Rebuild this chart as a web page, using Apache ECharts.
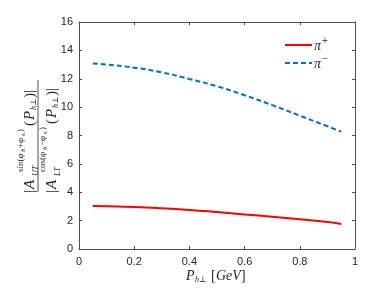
<!DOCTYPE html>
<html>
<head>
<meta charset="utf-8">
<script src="https://cdn.jsdelivr.net/npm/echarts@6/dist/echarts.min.js"></script>
<style>html,body{margin:0;padding:0;background:#fff}#c{width:392px;height:293px}</style>
</head>
<body>
<div id="c"></div>
<script>
var xValues = [0.05, 0.1, 0.2, 0.3, 0.4, 0.5, 0.6, 0.7, 0.8, 0.9, 0.95];
var piPlus = [3.03, 3.01, 2.96, 2.87, 2.75, 2.60, 2.44, 2.27, 2.09, 1.90, 1.77];
var piMinus = [13.07, 13.00, 12.78, 12.45, 11.98, 11.47, 10.84, 10.14, 9.40, 8.65, 8.27];
var seriesNames = ['π+', 'π−'];
var xTicks = [0, 0.2, 0.4, 0.6, 0.8, 1];
var yTicks = [0, 2, 4, 6, 8, 10, 12, 14, 16];

function pairs(ys) { return xValues.map(function (x, i) { return [x, ys[i]]; }); }

var axisCol = '#4d4d4d';
var labCol = '#262626';
var serif = '"Liberation Serif", "DejaVu Serif", serif';
var sans = '"Liberation Sans", Arial, sans-serif';

function axisCommon(show) {
  return {
    axisLine: { show: true, onZero: false, lineStyle: { color: axisCol, width: 1 } },
    axisTick: { show: true, inside: true, length: 3, lineStyle: { color: axisCol } },
    splitLine: { show: false },
    axisLabel: { show: show, color: labCol, fontFamily: sans, fontSize: 11 }
  };
}

var xBase = Object.assign({ type: 'value', min: 0, max: 1, interval: 0.2 }, axisCommon(true));
xBase.axisLabel.margin = 7;
xBase.axisLabel.formatter = function (v) { return String(Math.round(v * 10) / 10); };
var xTop = Object.assign({ type: 'value', min: 0, max: 1, interval: 0.2, position: 'top' }, axisCommon(false));
var yBase = Object.assign({ type: 'value', min: 0, max: 16, interval: 2 }, axisCommon(true));
yBase.axisLabel.margin = 6;
var yRight = Object.assign({ type: 'value', min: 0, max: 16, interval: 2, position: 'right' }, axisCommon(false));

var chart = echarts.init(document.getElementById('c'), null, { renderer: 'canvas' });

function t(text, x, y, size, italic) {
  return { type: 'text', x: x, y: y, style: { text: text, font: (italic ? 'italic ' : '') + size + 'px ' + serif, fill: labCol, textVerticalAlign: 'middle', textAlign: 'left' } };
}

chart.setOption({
  animation: false,
  grid: { left: 79, right: 37, top: 22, bottom: 44 },
  xAxis: [xBase, xTop],
  yAxis: [yBase, yRight],
  legend: { show: false, data: seriesNames },
  series: [
    { name: seriesNames[0], type: 'line', data: pairs(piPlus), smooth: true, symbol: 'none',
      lineStyle: { color: '#ff0000', width: 2 }, itemStyle: { color: '#ff0000' } },
    { name: seriesNames[1], type: 'line', data: pairs(piMinus), smooth: true, symbol: 'none',
      lineStyle: { color: '#0072bd', width: 2, type: [5, 3] }, itemStyle: { color: '#0072bd' } }
  ],
  graphic: [
    // legend
    { type: 'line', shape: { x1: 285, y1: 45, x2: 312, y2: 45 }, style: { stroke: '#ff0000', lineWidth: 2 } },
    { type: 'line', shape: { x1: 285, y1: 63, x2: 312, y2: 63 }, style: { stroke: '#0072bd', lineWidth: 2, lineDash: [5, 3] } },
    t('π', 314, 46, 14, true),
    { type: 'text', x: 322, y: 41, style: { text: '+', font: '10px ' + sans, fill: '#555', textVerticalAlign: 'middle' } },
    t('π', 314, 64, 14, true),
    { type: 'text', x: 322, y: 59, style: { text: '−', font: '10px ' + sans, fill: '#555', textVerticalAlign: 'middle' } },
    {
      type: 'group', x: 38, y: 136, rotation: Math.PI / 2,
      children: [
        { type: 'line', shape: { x1: -56, y1: 0, x2: 56, y2: 0 }, style: { stroke: labCol, lineWidth: 0.8 } },
        // numerator
        t('|', -57, -8, 15, false),
        t('A', -53, -8, 15, true),
        t('sin(φ', -36, -17, 9, false),
        t('h', -16, -15, 7, true),
        t('+φ', -12, -17, 9, false),
        t('s', 0, -15, 7, false),
        t(')', 4, -17, 9, false),
        t('UT', -40, -2, 8, true),
        t('(', 10, -8, 15, false),
        t('P', 16, -8, 15, true),
        t('h⊥', 26, -4, 8, true),
        t(')|', 38, -8, 15, false),
        // denominator
        t('|', -57, 14, 15, false),
        t('A', -53, 14, 15, true),
        t('cos(φ', -36, 5, 9, false),
        t('h', -14, 7, 7, true),
        t('−φ', -10, 5, 9, false),
        t('s', 2, 7, 7, false),
        t(')', 6, 5, 9, false),
        t('LT', -40, 20, 8, true),
        t('(', 12, 14, 15, false),
        t('P', 18, 14, 15, true),
        t('h⊥', 28, 18, 8, true),
        t(')|', 40, 14, 15, false)
      ]
    },
    {
      type: 'group', x: 186, y: 276,
      children: [
        t('P', 0, 0, 14, true),
        t('h⊥', 9, 4, 8, true),
        t('[', 25, 0, 14, false),
        t('GeV', 30, 0, 14, true),
        t(']', 55, 0, 14, false)
      ]
    }
  ]
});
</script>
</body>
</html>
